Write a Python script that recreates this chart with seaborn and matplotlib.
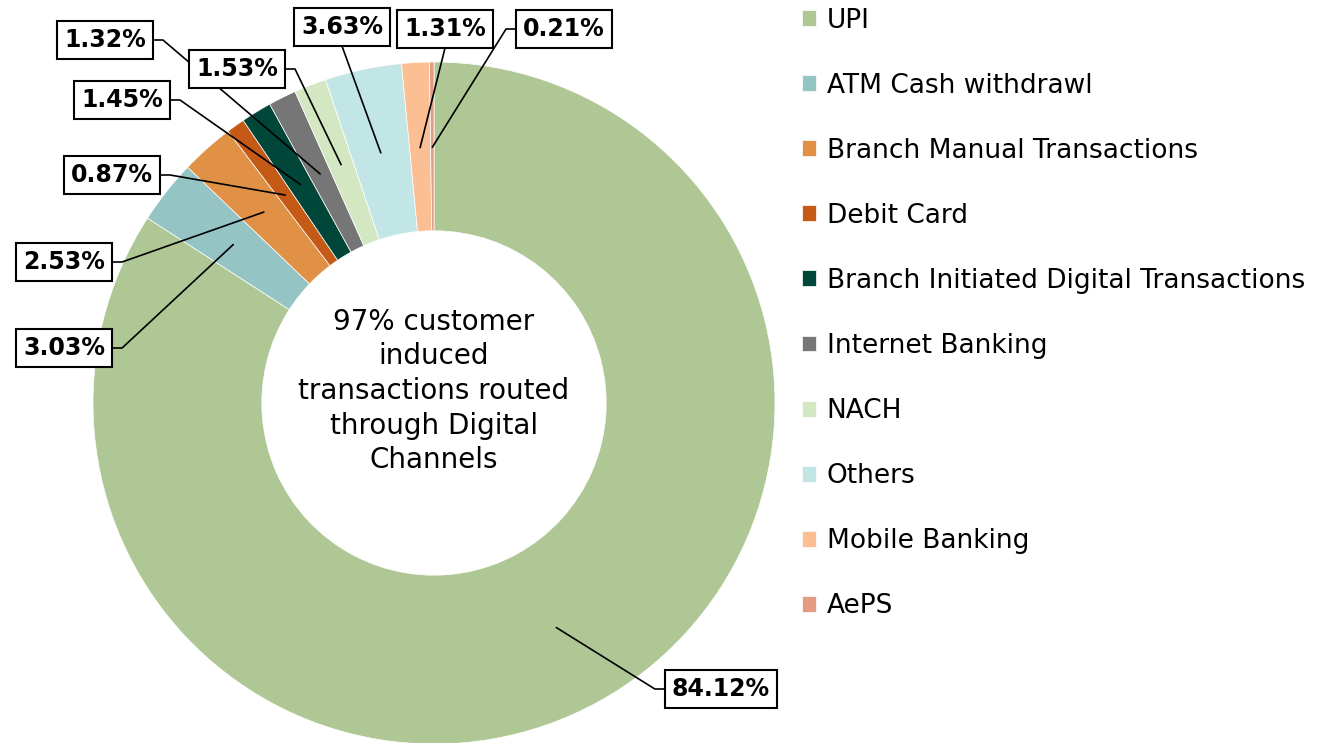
import numpy as np
import matplotlib
matplotlib.use("Agg")
import matplotlib.pyplot as plt
import seaborn as sns

## data ##
channels = ["UPI", "ATM Cash withdrawl", "Branch Manual Transactions", "Debit Card",
            "Branch Initiated Digital Transactions", "Internet Banking", "NACH",
            "Others", "Mobile Banking", "AePS"]
shares = [84.12, 3.03, 2.53, 0.87, 1.45, 1.32, 1.53, 3.63, 1.31, 0.21]
colors = ["#AEC794", "#94C4C4", "#E09146", "#C55A16", "#00473A",
          "#767676", "#D3E8C2", "#C2E6E5", "#FCBE93", "#E59A84"]
center_text = "97% customer\ninduced\ntransactions routed\nthrough Digital\nChannels"

## label box centres (pixels) and side the leader leaves from ##
label_px = [(721, 689), (64, 348), (64, 262), (112, 175), (122, 100),
            (105, 40), (237, 69), (342, 27), (445, 29), (564, 29)]
label_side = ["left", "right", "right", "right", "right",
              "right", "right", "bottom", "bottom", "left"]

sns.set_theme(style="white")
plt.rcParams["font.family"] = ["DejaVu Sans"]
plt.rcParams["text.color"] = "black"

W, H = 1331, 743
cx, cy, R = 434, 403, 341

fig = plt.figure(figsize=(W / 100, H / 100), dpi=100)
ax = fig.add_axes([0, 0, 1, 1])

wedges, _ = ax.pie(shares, colors=colors, startangle=90, counterclock=False, radius=1,
                   wedgeprops=dict(width=0.495, edgecolor="white", linewidth=0.5))
ax.set_xlim(-cx / R, (W - cx) / R)
ax.set_ylim(-(H - cy) / R, cy / R)
ax.set_aspect("auto")
ax.axis("off")


def to_data(x, y):
    return (x - cx) / R, (cy - y) / R


ax.text(0, to_data(0, 391)[1], center_text, ha="center", va="center",
        fontsize=20, color="black", linespacing=1.3)

# percentage labels with leader lines
texts = []
for w, v, (lx, ly) in zip(wedges, shares, label_px):
    tx, ty = to_data(lx, ly)
    t = ax.text(tx, ty, f"{v:.2f}%", ha="center", va="center", fontsize=17,
                fontweight="bold", color="black", zorder=5,
                bbox=dict(boxstyle="square,pad=0.3", fc="white", ec="black", lw=1.5))
    texts.append(t)

fig.canvas.draw()
inv = ax.transData.inverted()
for w, t, side in zip(wedges, texts, label_side):
    mid = np.deg2rad((w.theta1 + w.theta2) / 2)
    ex, ey = 0.75 * np.cos(mid), 0.75 * np.sin(mid)
    bb = t.get_bbox_patch().get_window_extent()
    if side == "right":
        a = (bb.x1, (bb.y0 + bb.y1) / 2)
        b = (bb.x1 + 10, a[1])
    elif side == "left":
        a = (bb.x0, (bb.y0 + bb.y1) / 2)
        b = (bb.x0 - 10, a[1])
    else:
        a = ((bb.x0 + bb.x1) / 2, bb.y0)
        b = a
    pa = inv.transform(a)
    pb = inv.transform(b)
    ax.plot([pa[0], pb[0], ex], [pa[1], pb[1], ey], color="black", lw=1.2, zorder=4)

leg = fig.legend(wedges, channels, loc="upper left", bbox_to_anchor=(791 / W, 1 + 3 / H),
                 frameon=False, fontsize=19, handlelength=0.55, handleheight=0.55,
                 handletextpad=0.4, labelspacing=1.48, borderaxespad=0)
for txt in leg.get_texts():
    txt.set_color("black")

fig.savefig("out.png", dpi=100)
